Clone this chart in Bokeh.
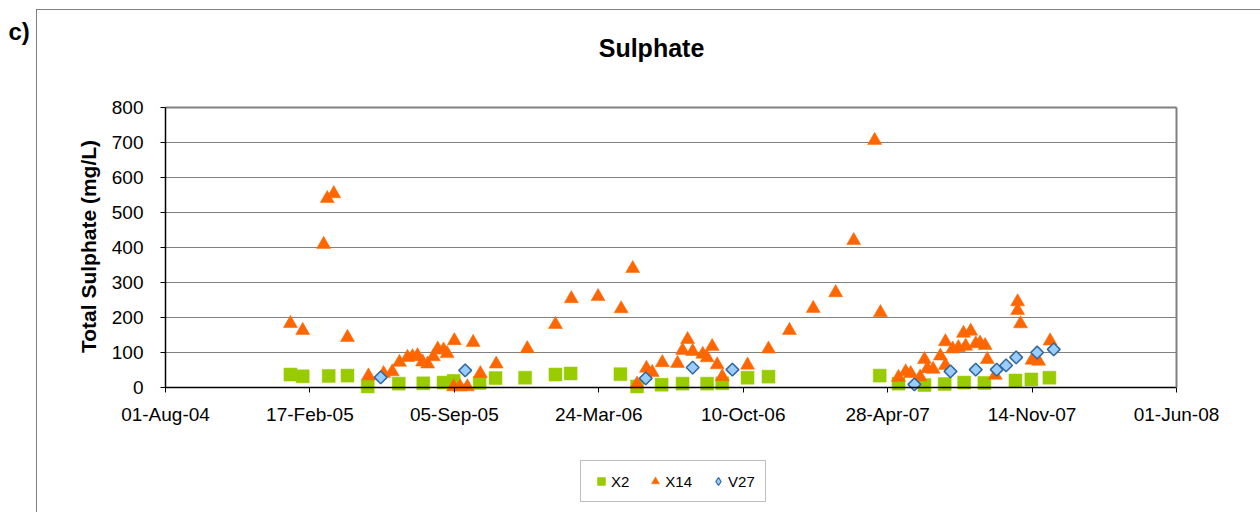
import math
import datetime as dt
from bokeh.plotting import figure
from bokeh.models import (Range1d, FixedTicker, DatetimeTickFormatter, Legend, LegendItem,
                          Label, LinearAxis, InlineStyleSheet)
from bokeh.embed import file_html
from bokeh.resources import INLINE

# ---------------- data ----------------
x2_dates = ["2005-01-21", "2005-02-07", "2005-03-15", "2005-04-10", "2005-05-08", "2005-06-20",
            "2005-07-24", "2005-08-21", "2005-09-04", "2005-10-10", "2005-11-01", "2005-12-12",
            "2006-01-23", "2006-02-13", "2006-04-23", "2006-05-16", "2006-06-19", "2006-07-18",
            "2006-08-21", "2006-09-11", "2006-10-16", "2006-11-14", "2007-04-17", "2007-05-13",
            "2007-06-18", "2007-07-16", "2007-08-12", "2007-09-09", "2007-10-22", "2007-11-13",
            "2007-12-08"]
x2_vals = [37, 32, 33, 34, 3, 11, 12, 14, 19, 13, 27, 28,
           37, 40, 38, 3, 8, 11, 11, 12, 28, 31, 34, 11,
           7, 10, 14, 13, 20, 23, 28]

x14_dates = ["2005-01-21", "2005-02-07", "2005-03-08", "2005-03-13", "2005-03-22", "2005-04-10",
             "2005-05-09", "2005-05-30", "2005-06-11", "2005-06-21", "2005-07-02", "2005-07-09",
             "2005-07-16", "2005-07-23", "2005-07-30", "2005-08-07", "2005-08-13", "2005-08-21",
             "2005-08-26", "2005-09-04", "2005-09-05", "2005-09-13", "2005-09-23", "2005-10-01",
             "2005-10-11", "2005-11-02", "2005-12-15",
             "2006-01-23", "2006-02-14", "2006-03-23", "2006-04-24", "2006-05-10", "2006-05-16",
             "2006-05-29", "2006-06-06", "2006-06-20", "2006-07-11", "2006-07-18", "2006-07-25",
             "2006-08-01", "2006-08-15", "2006-08-21", "2006-08-28", "2006-09-04", "2006-09-11",
             "2006-10-16", "2006-11-14", "2006-12-13",
             "2007-01-15", "2007-02-15", "2007-03-12", "2007-04-10", "2007-04-18", "2007-05-13",
             "2007-05-23", "2007-05-30", "2007-06-12", "2007-06-18", "2007-06-22", "2007-06-30",
             "2007-07-10", "2007-07-17", "2007-07-17", "2007-07-27", "2007-08-04", "2007-08-11",
             "2007-08-14", "2007-08-21", "2007-08-28", "2007-09-03", "2007-09-10", "2007-09-13",
             "2007-09-24", "2007-10-25", "2007-10-25", "2007-10-29", "2007-11-14", "2007-11-23",
             "2007-12-09"]
x14_vals = [183, 163, 409, 540, 554, 143,
            33, 40, 45, 72, 86, 88,
            91, 73, 67, 88, 110, 107,
            97, 2, 134, 2, 2, 129,
            40, 67, 111,
            180, 254, 260, 225, 340, 10,
            55, 43, 71, 69, 106, 137,
            103, 95, 85, 117, 65, 31,
            64, 110, 163,
            226, 271, 420, 706, 214, 29,
            45, 40, 30, 80, 54, 52,
            90, 131, 63, 110, 114, 155,
            118, 161, 125, 127, 120, 80,
            35, 245, 220, 182, 78, 75,
            133]

v27_dates = ["2005-05-26", "2005-09-20", "2006-05-28", "2006-08-01", "2006-09-25", "2007-06-04",
             "2007-07-24", "2007-08-28", "2007-09-26", "2007-10-09", "2007-10-23", "2007-11-21",
             "2007-12-14"]
v27_vals = [29, 49, 26, 57, 51, 9, 46, 51, 51, 63, 86, 100, 109]

tick_dates = ["2004-08-01", "2005-02-17", "2005-09-05", "2006-03-24", "2006-10-10",
              "2007-04-28", "2007-11-14", "2008-06-01"]
y_ticks = [0, 100, 200, 300, 400, 500, 600, 700, 800]

series_names = ["X2", "X14", "V27"]
chart_title = "Sulphate"
panel_tag = "c)"
y_title = "Total Sulphate (mg/L)"

FONT = "Liberation Sans"

# ---------------- layout geometry (pixels) ----------------
W, H = 1260, 512
PLOT_L, PLOT_R, PLOT_T, PLOT_B = 165, 1176, 107, 387


def to_dt(s):
    return dt.datetime.strptime(s, "%Y-%m-%d")


def to_ms(s):
    return (to_dt(s) - dt.datetime(1970, 1, 1)).total_seconds() * 1000.0


x0, x1 = to_ms(tick_dates[0]), to_ms(tick_dates[-1])
y0, y1 = y_ticks[0], y_ticks[-1]
kx = (PLOT_R - PLOT_L) / (x1 - x0)
ky = (PLOT_B - PLOT_T) / (y1 - y0)
x_range = Range1d(x0 - PLOT_L / kx, x1 + (W - PLOT_R) / kx)
y_range = Range1d(y0 - (H - PLOT_B) / ky, y1 + PLOT_T / ky)

border_css = InlineStyleSheet(css="""
:host { position: relative; }
:host::after {
  content: "";
  position: absolute;
  left: 36px; top: 9px; right: 0px; bottom: 0px;
  border-left: 1px solid #808080;
  border-top: 1px solid #808080;
  pointer-events: none;
}
""")

# ---------------- figure ----------------
p = figure(
    x_axis_type="datetime",
    width=W, height=H, min_border=0,
    x_range=x_range, y_range=y_range,
    output_backend="svg", toolbar_location=None,
    background_fill_color="white", border_fill_color="white",
    stylesheets=[border_css],
)
p.outline_line_color = None
p.xgrid.grid_line_color = None
p.ygrid.grid_line_color = None

# horizontal gridlines limited to the plot area
p.segment(x0=[x0] * len(y_ticks), y0=y_ticks, x1=[x1] * len(y_ticks), y1=y_ticks,
          line_color="#808080", line_width=1)

xa = p.xaxis[0]
ya = p.yaxis[0]
xa.ticker = FixedTicker(ticks=[to_ms(d) for d in tick_dates])
fmt = "%d-%b-%y"
xa.formatter = DatetimeTickFormatter(microseconds=fmt, milliseconds=fmt, seconds=fmt,
                                     minsec=fmt, minutes=fmt, hourmin=fmt, hours=fmt,
                                     days=fmt, months=fmt, years=fmt)
ya.ticker = FixedTicker(ticks=y_ticks)
xa.fixed_location = y0
xa.bounds = (x0, x1)
ya.fixed_location = x0
ya.bounds = (y0, y1)

for ax in (xa, ya):
    ax.axis_line_color = "black"
    ax.axis_line_width = 1.5
    ax.major_tick_line_color = "black"
    ax.major_tick_out = 5
    ax.major_tick_in = 0
    ax.minor_tick_line_color = None
    ax.major_label_text_font = FONT
    ax.major_label_text_font_size = "19px"
    ax.major_label_text_color = "black"
xa.major_label_standoff = 11
ya.major_label_standoff = 17

# gray plot-area border on the right and top
right_edge = LinearAxis(fixed_location=x1, bounds=(y0, y1), ticker=FixedTicker(ticks=[]),
                        axis_line_color="#808080", axis_line_width=2,
                        major_tick_line_color=None, minor_tick_line_color=None)
p.add_layout(right_edge, "right")
top_edge = LinearAxis(fixed_location=y1, bounds=(x0, x1), ticker=FixedTicker(ticks=[]),
                      axis_line_color="#808080", axis_line_width=2,
                      major_tick_line_color=None, minor_tick_line_color=None)
p.add_layout(top_edge, "above")

# ---------------- series ----------------
r_x2 = p.scatter([to_dt(d) for d in x2_dates], x2_vals, marker="square", size=13,
                 fill_color="#99CC00", line_color="#99CC00", line_width=0.5)
r_x14 = p.scatter([to_dt(d) for d in x14_dates], x14_vals, marker="triangle", size=14,
                  fill_color="#FF6600", line_color="#FF6600", line_width=0.5)
r_v27 = p.scatter([to_dt(d) for d in v27_dates], v27_vals, marker="square", size=9,
                  angle=math.pi / 4, fill_color="#99CCFF", line_color="#336699", line_width=1.5)
# legend-only proxy for the diamond symbol (not drawn in the plot: no finite y)
r_v27_leg = p.scatter([to_dt(v27_dates[0])], [float("nan")], marker="diamond", size=10,
                      fill_color="#99CCFF", line_color="#336699", line_width=1.2)

legend = Legend(
    items=[LegendItem(label=series_names[0], renderers=[r_x2]),
           LegendItem(label=series_names[1], renderers=[r_x14]),
           LegendItem(label=series_names[2], renderers=[r_v27_leg])],
    orientation="horizontal",
    location=(580, H - 502),
    glyph_width=20, glyph_height=20, label_standoff=-3, label_width=10,
    spacing=16, padding=10, margin=0,
    label_text_font=FONT, label_text_font_size="15px", label_text_color="black",
    border_line_color="#808080", border_line_width=1,
    background_fill_color="white", background_fill_alpha=1.0,
)
p.add_layout(legend, "center")

# ---------------- texts ----------------
p.add_layout(Label(x=651, y=H - 47, x_units="screen", y_units="screen", text=chart_title,
                   text_font=FONT, text_font_size="25px", text_font_style="bold",
                   text_align="center", text_baseline="middle", text_color="black"))
p.add_layout(Label(x=8, y=H - 31, x_units="screen", y_units="screen", text=panel_tag,
                   text_font=FONT, text_font_size="24px", text_font_style="bold",
                   text_align="left", text_baseline="middle", text_color="black"))
p.add_layout(Label(x=88, y=H - 246, x_units="screen", y_units="screen", text=y_title,
                   angle=math.pi / 2, angle_units="rad",
                   text_font=FONT, text_font_size="21px", text_font_style="bold",
                   text_align="center", text_baseline="middle", text_color="black"))

open("out.html", "w").write(file_html(p, INLINE))
